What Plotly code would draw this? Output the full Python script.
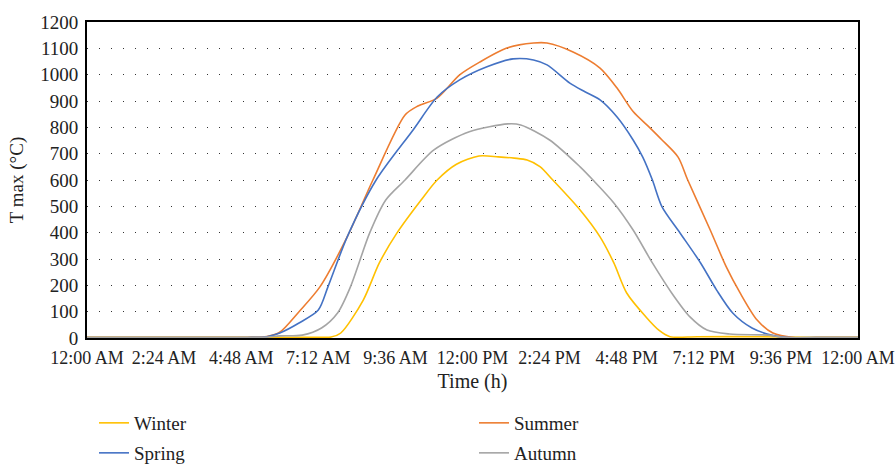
import plotly.graph_objects as go

# hours since midnight
winter_t = [0, 3, 6, 7.2, 7.6, 7.9, 8.6, 9.1, 9.65, 10.4, 10.9, 11.5, 12.2, 12.8, 13.3, 13.7, 14.1, 14.5, 15.35, 15.97, 16.4, 16.8, 17.4, 17.8, 18.15, 19, 21, 22.5, 24]
winter_v = [3, 3, 3, 3, 4, 19, 144, 285, 399, 524, 600, 660, 691, 688, 683, 676, 651, 600, 486, 384, 285, 171, 80, 30, 5, 5, 5, 3, 3]

summer_t = [0, 3, 5.0, 5.6, 6.0, 6.6, 7.25, 8.1, 8.9, 9.9, 10.3, 10.9, 11.6, 12.23, 13.07, 13.9, 14.32, 15.13, 15.97, 16.5, 17.0, 17.5, 17.9, 18.4, 18.7, 19.4, 19.9, 20.33, 20.86, 21.35, 22.0, 23, 24]
summer_v = [2, 2, 2, 6, 22, 100, 194, 384, 600, 847, 881, 911, 999, 1048, 1101, 1120, 1120, 1086, 1025, 949, 860, 801, 752, 687, 600, 410, 270, 171, 68, 19, 2, 2, 2]

spring_t = [0, 3, 5.0, 5.6, 6.0, 6.6, 7.2, 7.5, 8.1, 9.0, 10.15, 10.9, 11.6, 12.45, 13.26, 13.9, 14.32, 15.03, 15.5, 15.97, 16.5, 17.0, 17.3, 17.6, 17.9, 18.46, 19.1, 19.6, 20.1, 20.7, 21.3, 21.8, 23, 24]
spring_v = [2, 2, 2, 5, 19, 57, 106, 194, 384, 600, 790, 915, 980, 1030, 1060, 1056, 1037, 968, 935, 904, 839, 752, 687, 600, 498, 399, 285, 182, 95, 38, 11, 2, 2, 2]

autumn_t = [0, 3, 5.5, 6.0, 6.7, 7.3, 7.8, 8.2, 8.8, 9.3, 9.9, 10.8, 11.9, 13.1, 13.5, 14.4, 15.35, 15.75, 16.4, 17.0, 17.6, 18.2, 18.77, 19.3, 20.0, 21.2, 21.6, 22.5, 24]
autumn_v = [2, 2, 3, 8, 11, 38, 95, 194, 399, 524, 600, 714, 783, 813, 809, 752, 650, 600, 513, 410, 285, 171, 80, 30, 15, 11, 4, 2, 2]

tick_vals = [0, 2.4, 4.8, 7.2, 9.6, 12, 14.4, 16.8, 19.2, 21.6, 24]
tick_text = ["12:00 AM", "2:24 AM", "4:48 AM", "7:12 AM", "9:36 AM", "12:00 PM",
             "2:24 PM", "4:48 PM", "7:12 PM", "9:36 PM", "12:00 AM"]
y_ticks = list(range(0, 1300, 100))

series = [
    ("Winter", winter_t, winter_v, "#FFC000", "legend"),
    ("Summer", summer_t, summer_v, "#ED7D31", "legend"),
    ("Spring", spring_t, spring_v, "#4472C4", "legend2"),
    ("Autumn", autumn_t, autumn_v, "#A5A5A5", "legend2"),
]

fig = go.Figure()
for name, t, v, c, lg in series:
    fig.add_trace(go.Scatter(x=t, y=v, name=name, mode="lines", legend=lg,
                             line=dict(color=c, width=1.6, shape="spline", smoothing=0.8)))

font = "Liberation Serif, Times New Roman, serif"
leg_common = dict(orientation="h", xref="container", yref="container",
                  x=94 / 896, xanchor="left", yanchor="top",
                  entrywidth=335, entrywidthmode="pixels",
                  bgcolor="rgba(0,0,0,0)",
                  font=dict(family=font, size=19, color="#222"))

fig.update_layout(
    width=896, height=464,
    margin=dict(l=87, r=38, t=22, b=126),
    paper_bgcolor="white", plot_bgcolor="white",
    font=dict(family=font, size=19, color="#222"),
    showlegend=True,
    legend=dict(**leg_common, y=1 - 404 / 464),
    legend2=dict(**leg_common, y=1 - 434 / 464),
    xaxis=dict(range=[0, 24], tickvals=tick_vals, ticktext=tick_text,
               showgrid=False, zeroline=False, showline=True, linecolor="black",
               linewidth=2, mirror=True, ticks="", automargin=False,
               ticklabeloverflow="allow", ticklabelstandoff=2,
               title=dict(text="Time (h)", font=dict(size=20), standoff=7),
               tickfont=dict(size=18)),
    yaxis=dict(range=[0, 1200], tickvals=y_ticks, showgrid=True,
               gridcolor="#333", griddash="1px,11px", gridwidth=1,
               zeroline=False, showline=True, linecolor="black", linewidth=2,
               mirror=True, ticks="", tickfont=dict(size=19), automargin=False,
               ticklabelstandoff=3,
               title=dict(text="T max (°C)", font=dict(size=19), standoff=12)),
)

fig.write_html("out.html", config={"displayModeBar": False},
               post_script="document.body.style.margin='0';")
